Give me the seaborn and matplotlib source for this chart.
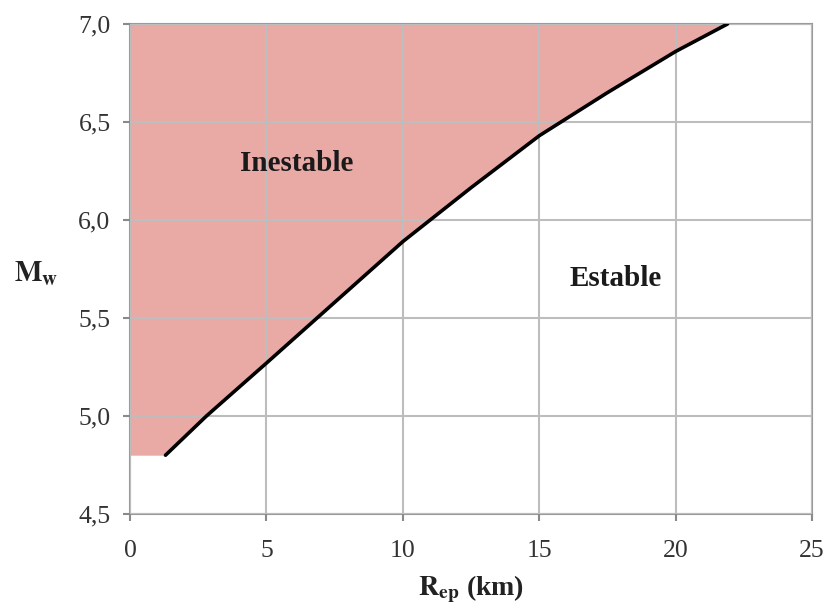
# Stability chart: Mw vs epicentral distance
import numpy as np
import matplotlib
matplotlib.use('Agg')
import matplotlib.pyplot as plt
import matplotlib.ticker as mticker
import seaborn as sns

# Boundary curve
r_ep = [1.3, 2.8, 5.0, 7.5, 10.0, 12.5, 15.0, 17.5, 20.0, 21.9]
mw = [4.80, 5.00, 5.27, 5.58, 5.89, 6.165, 6.43, 6.65, 6.86, 7.00]

x_ticks = [0, 5, 10, 15, 20, 25]
y_ticks = [4.5, 5.0, 5.5, 6.0, 6.5, 7.0]

# Theme first, fonts after
sns.set_theme(style='whitegrid')
plt.rcParams['font.family'] = ['Liberation Serif', 'DejaVu Serif']
plt.rcParams['mathtext.fontset'] = 'stix'

fig = plt.figure(figsize=(8.39, 6.08), dpi=100)
ax = fig.add_axes([0.155, 0.1546, 0.813, 0.806])

# Shaded unstable zone: left of / above the curve
fill_x = np.concatenate([[0], r_ep])
fill_y = np.concatenate([[mw[0]], mw])
ax.fill_between(fill_x, fill_y, y_ticks[-1], color='#E9AAA6', lw=0, zorder=1)

sns.lineplot(x=r_ep, y=mw, color='black', lw=2.6, ax=ax, zorder=3)

ax.set_xlim(0, 25)
ax.set_ylim(4.5, 7.0)
ax.set_xticks(x_ticks)
ax.set_yticks(y_ticks)
ax.yaxis.set_major_formatter(mticker.FuncFormatter(lambda v, p: f'{v:.1f}'.replace('.', ',')))

ax.set_facecolor('white')
ax.grid(True, color='#BDBDBD', lw=1.5, zorder=2)
ax.set_axisbelow(False)
for s in ax.spines.values():
    s.set_visible(True)
    s.set_color('#9A9A9A')
    s.set_linewidth(1.5)
    s.set_zorder(2)

ax.tick_params(axis='both', which='major', length=5, width=1.5, color='#8A8A8A',
               labelsize=18.5, labelcolor='#333333', direction='out')
ax.tick_params(axis='x', bottom=True, pad=14)
ax.tick_params(axis='y', left=True, pad=9)

ax.set_xlabel(r'$\mathbf{R_{ep}}$ (km)', fontsize=20, fontweight='bold', color='#222222', labelpad=8)
ax.set_ylabel(r'$\mathbf{M_w}$', fontsize=21, fontweight='bold', color='#222222',
              rotation=0, va='center', ha='center')
ax.yaxis.set_label_coords(-0.138, 0.49)

ax.text(6.1, 6.29, 'Inestable', fontsize=21, fontweight='bold', color='#1a1a1a',
        ha='center', va='center', zorder=4)
ax.text(17.8, 5.70, 'Estable', fontsize=21, fontweight='bold', color='#1a1a1a',
        ha='center', va='center', zorder=4)

fig.savefig('out.png', dpi=100)
